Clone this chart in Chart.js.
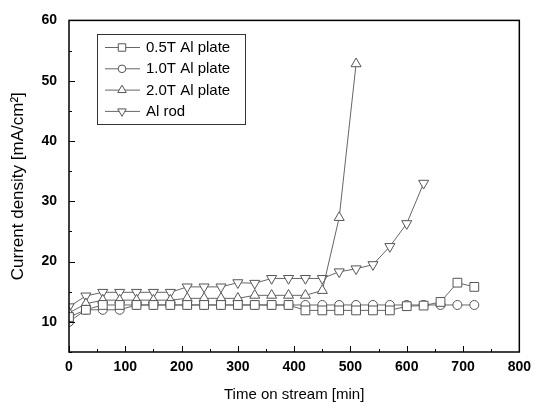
<!DOCTYPE html>
<html>
<head>
<meta charset="utf-8">
<script src="https://cdn.jsdelivr.net/npm/chart.js@4/dist/chart.umd.min.js"></script>
<style>
    body { margin: 0; background: #fff; }
    #wrap { width: 538px; height: 404px; }
</style>
</head>
<body>
<div id="wrap"><canvas id="chart" width="538" height="404"></canvas></div>
<script>
// time on stream [min]
const times = [0, 30, 60, 90, 120, 150, 180, 210, 240, 270, 300, 330, 360, 390, 420, 450, 480, 510, 540, 570, 600, 630, 660, 690, 720];

// current density [mA/cm2]
const plate05 = [10.8, 12.0, 12.8, 12.8, 12.8, 12.8, 12.8, 12.8, 12.8, 12.8, 12.8, 12.8, 12.8, 12.8, 11.9, 11.9, 11.9, 11.9, 11.9, 11.9, 12.6, 12.7, 13.3, 16.5, 15.8];
const plate10 = [10.0, 12.0, 12.0, 12.0, 12.8, 12.8, 12.8, 12.8, 12.8, 12.8, 12.8, 12.8, 12.8, 12.8, 12.8, 12.8, 12.8, 12.8, 12.8, 12.8, 12.8, 12.8, 12.8, 12.8, 12.8];
const plate20 = [11.5, 13.0, 13.6, 13.6, 13.6, 13.6, 13.6, 13.9, 13.9, 13.9, 13.9, 14.4, 14.4, 14.4, 14.4, 15.2, 27.3, 52.8];
const rod = [12.5, 14.3, 14.9, 14.9, 14.9, 14.9, 14.9, 15.8, 15.8, 15.8, 16.5, 16.4, 17.2, 17.2, 17.2, 17.2, 18.3, 18.8, 19.5, 22.5, 26.3, 33.0];

const labels = ['0.5T Al plate', '1.0T Al plate', '2.0T Al plate', 'Al rod'];
const xTicks = [0, 100, 200, 300, 400, 500, 600, 700, 800];
const xMinor = [50, 150, 250, 350, 450, 550, 650, 750];
const yTicks = [10, 20, 30, 40, 50, 60];
const yMinor = [5, 15, 25, 35, 45, 55];

const FONT = "'Liberation Sans', Arial, sans-serif";

function toPoints(values) {
    return values.map((v, i) => ({ x: times[i], y: v }));
}

function makeSet(label, values, style, radius, rotation) {
    return {
        label: label,
        data: toPoints(values),
        borderColor: '#666',
        borderWidth: 1,
        pointStyle: style,
        pointRadius: radius,
        pointRotation: rotation,
        pointBorderColor: '#555',
        pointBorderWidth: 1,
        pointBackgroundColor: '#fff',
        showLine: true,
        tension: 0
    };
}

// inward ticks + box frame, origin style
const frame = {
    id: 'frame',
    afterDraw(chart) {
        const { ctx, chartArea: a, scales: { x, y } } = chart;
        ctx.save();
        ctx.strokeStyle = '#000';
        ctx.lineWidth = 1.5;
        ctx.strokeRect(a.left, a.top, a.right - a.left, a.bottom - a.top);
        ctx.lineWidth = 1;
        ctx.beginPath();
        xTicks.forEach(v => {
            const px = Math.round(x.getPixelForValue(v)) + 0.5;
            ctx.moveTo(px, a.bottom); ctx.lineTo(px, a.bottom - 6);
        });
        xMinor.forEach(v => {
            const px = Math.round(x.getPixelForValue(v)) + 0.5;
            ctx.moveTo(px, a.bottom); ctx.lineTo(px, a.bottom - 3);
        });
        yTicks.forEach(v => {
            const py = Math.round(y.getPixelForValue(v)) + 0.5;
            ctx.moveTo(a.left, py); ctx.lineTo(a.left + 6, py);
        });
        yMinor.forEach(v => {
            const py = Math.round(y.getPixelForValue(v)) + 0.5;
            ctx.moveTo(a.left, py); ctx.lineTo(a.left + 3, py);
        });
        ctx.stroke();
        ctx.restore();
    }
};

// legend box in the upper left of the plot
const boxLegend = {
    id: 'boxLegend',
    afterDraw(chart) {
        const ctx = chart.ctx;
        ctx.save();
        ctx.strokeStyle = '#333';
        ctx.lineWidth = 1;
        ctx.strokeRect(97.5, 34.5, 148, 90);
        ctx.font = '15px ' + FONT;
        ctx.textBaseline = 'middle';
        chart.data.datasets.forEach((ds, i) => {
            const ly = 47 + i * 21.3;
            ctx.strokeStyle = ds.borderColor;
            ctx.beginPath();
            ctx.moveTo(105, ly + 0.5);
            ctx.lineTo(140, ly + 0.5);
            ctx.stroke();
            ctx.strokeStyle = ds.pointBorderColor;
            ctx.fillStyle = '#fff';
            Chart.helpers.drawPoint(ctx, {
                pointStyle: ds.pointStyle,
                radius: ds.pointRadius * 0.85,
                rotation: ds.pointRotation,
                borderWidth: 1
            }, 122, ly + 0.5);
            ctx.fillStyle = '#000';
            ctx.fillText(ds.label, 146, ly + 1);
        });
        ctx.restore();
    }
};

new Chart(document.getElementById('chart'), {
    type: 'scatter',
    data: {
        datasets: [
            makeSet(labels[0], plate05, 'rect', 6.2, 0),
            makeSet(labels[1], plate10, 'circle', 4.5, 0),
            makeSet(labels[2], plate20, 'triangle', 5.8, 0),
            makeSet(labels[3], rod, 'triangle', 5.8, 180)
        ]
    },
    options: {
        responsive: false,
        animation: false,
        layout: { padding: { top: 17, right: 12, left: 0, bottom: 0 } },
        plugins: {
            legend: { display: false },
            tooltip: { enabled: false }
        },
        scales: {
            x: {
                type: 'linear',
                min: 0,
                max: 800,
                afterBuildTicks: (s) => { s.ticks = xTicks.map(v => ({ value: v })); },
                afterFit: (s) => { s.height = 52; },
                grid: { display: false, drawTicks: false },
                border: { display: false },
                ticks: {
                    padding: 7,
                    color: '#000',
                    maxRotation: 0,
                    font: { family: FONT, size: 14, weight: 'bold' }
                },
                title: {
                    display: true,
                    text: 'Time on stream [min]',
                    color: '#000',
                    padding: { top: 0, bottom: 0 },
                    font: { family: FONT, size: 15 }
                }
            },
            y: {
                type: 'linear',
                min: 5,
                max: 60,
                afterBuildTicks: (s) => { s.ticks = yTicks.map(v => ({ value: v })); },
                afterFit: (s) => { s.width = 69; },
                grid: { display: false, drawTicks: false },
                border: { display: false },
                ticks: {
                    padding: 12,
                    color: '#000',
                    font: { family: FONT, size: 14, weight: 'bold' }
                },
                title: {
                    display: true,
                    text: 'Current density [mA/cm²]',
                    color: '#000',
                    padding: { top: 8, bottom: 0 },
                    font: { family: FONT, size: 17 }
                }
            }
        }
    },
    plugins: [frame, boxLegend]
});
</script>
</body>
</html>
